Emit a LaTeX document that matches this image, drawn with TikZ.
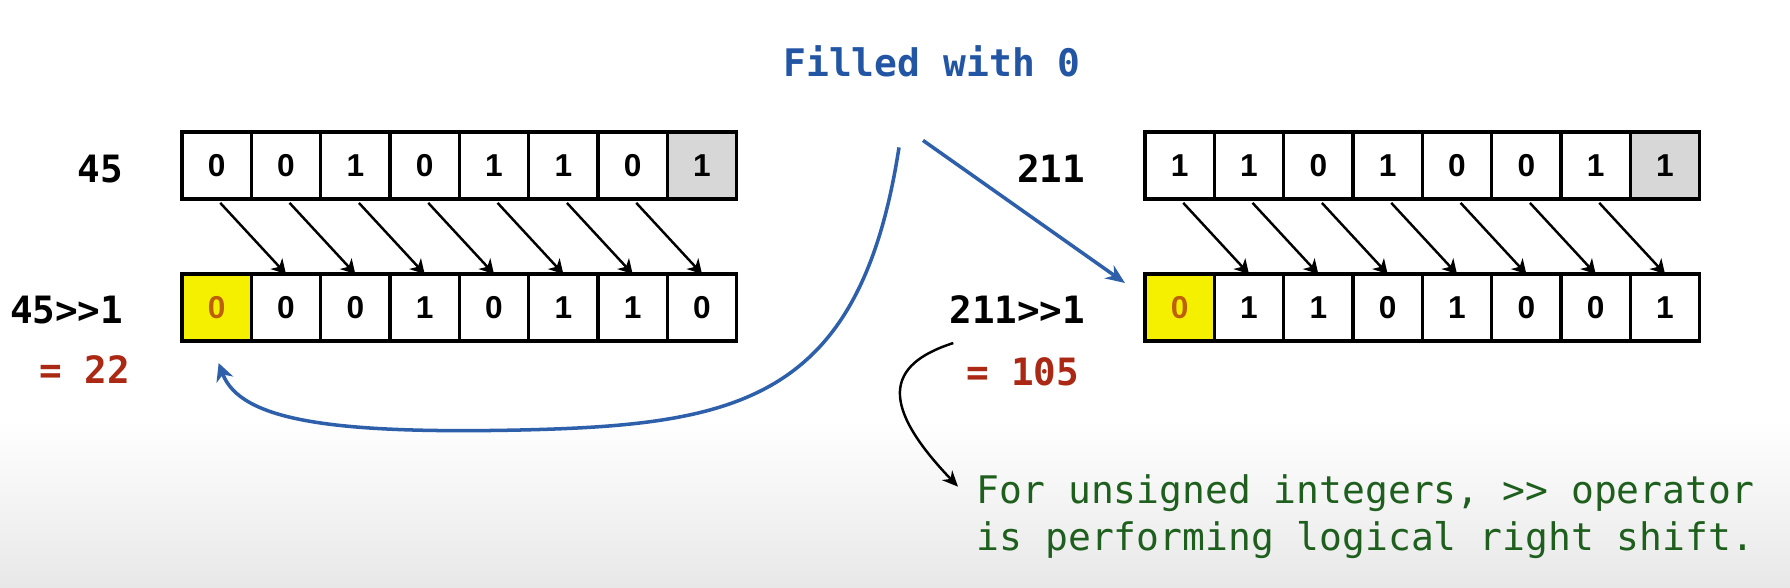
\documentclass[tikz,border=0pt]{standalone}
\usepackage{fontspec}
\usepackage{xcolor}
\usepackage{tikz}
\usetikzlibrary{positioning, arrows.meta, calc}
\setsansfont{Liberation Sans}
\newfontfamily\codefont{DejaVu Sans Mono}

\definecolor{fillblue}{RGB}{35,85,165}
\definecolor{arrowblue}{RGB}{45,95,170}
\definecolor{resred}{RGB}{170,40,20}
\definecolor{notegreen}{RGB}{30,95,30}
\definecolor{cellyellow}{RGB}{245,240,0}
\definecolor{cellgray}{RGB}{215,215,215}
\definecolor{zeroorange}{RGB}{190,95,10}

\tikzset{
  cell/.style={draw, line width=1pt, minimum width=0.693cm, minimum height=0.67cm, inner sep=0pt, outer sep=0pt, font=\sffamily\bfseries\fontsize{9}{10.8}\selectfont},
  lastbit/.style={cell, fill=cellgray},
  newbit/.style={cell, fill=cellyellow, text=zeroorange},
  shiftarrow/.style={-{Stealth[length=4pt, width=4.5pt, inset=1.2pt]}, line width=0.7pt, shorten <=1.5pt},
  numtext/.style={font=\codefont\bfseries\fontsize{10.7}{13}\selectfont, inner sep=0pt, anchor=east},
  restext/.style={numtext, text=resred},
  notetext/.style={font=\codefont\fontsize{10.8}{13.4}\selectfont, inner sep=0pt, anchor=base west, text=notegreen},
  bluearrow/.style={arrowblue, line width=1pt},
}

\begin{document}
\begin{tikzpicture}[x=0.01cm, y=-0.01cm]

\useasboundingbox (0,0) rectangle (1790,587);
\fill [white] (0,0) rectangle (1790,587);
\shade [top color=white, bottom color=black!9] (0,420) rectangle (1790,587);

% 45 and 45>>1
\node[cell] (a0) at (216.65,165.5) {0};
\node[cell, right=0pt of a0] (a1) {0};
\node[cell, right=0pt of a1] (a2) {1};
\node[cell, right=0pt of a2] (a3) {0};
\node[cell, right=0pt of a3] (a4) {1};
\node[cell, right=0pt of a4] (a5) {1};
\node[cell, right=0pt of a5] (a6) {0};
\node[lastbit, right=0pt of a6] (a7) {1};

\node[newbit] (b0) at (216.65,307.5) {0};
\node[cell, right=0pt of b0] (b1) {0};
\node[cell, right=0pt of b1] (b2) {0};
\node[cell, right=0pt of b2] (b3) {1};
\node[cell, right=0pt of b3] (b4) {0};
\node[cell, right=0pt of b4] (b5) {1};
\node[cell, right=0pt of b5] (b6) {1};
\node[cell, right=0pt of b6] (b7) {0};

\draw [shiftarrow] (a0.south) -- (b1.north);
\draw [shiftarrow] (a1.south) -- (b2.north);
\draw [shiftarrow] (a2.south) -- (b3.north);
\draw [shiftarrow] (a3.south) -- (b4.north);
\draw [shiftarrow] (a4.south) -- (b5.north);
\draw [shiftarrow] (a5.south) -- (b6.north);
\draw [shiftarrow] (a6.south) -- (b7.north);

\node[numtext] (n45) at (124,169) {45};
\node[numtext] (n45s) at (124,310) {45>\kern0pt>1};
\node[restext] (r22) at (131,370) {= 22};

% 211 and 211>>1
\node[cell] (c0) at (1179.65,165.5) {1};
\node[cell, right=0pt of c0] (c1) {1};
\node[cell, right=0pt of c1] (c2) {0};
\node[cell, right=0pt of c2] (c3) {1};
\node[cell, right=0pt of c3] (c4) {0};
\node[cell, right=0pt of c4] (c5) {0};
\node[cell, right=0pt of c5] (c6) {1};
\node[lastbit, right=0pt of c6] (c7) {1};

\node[newbit] (d0) at (1179.65,307.5) {0};
\node[cell, right=0pt of d0] (d1) {1};
\node[cell, right=0pt of d1] (d2) {1};
\node[cell, right=0pt of d2] (d3) {0};
\node[cell, right=0pt of d3] (d4) {1};
\node[cell, right=0pt of d4] (d5) {0};
\node[cell, right=0pt of d5] (d6) {0};
\node[cell, right=0pt of d6] (d7) {1};

\draw [shiftarrow] (c0.south) -- (d1.north);
\draw [shiftarrow] (c1.south) -- (d2.north);
\draw [shiftarrow] (c2.south) -- (d3.north);
\draw [shiftarrow] (c3.south) -- (d4.north);
\draw [shiftarrow] (c4.south) -- (d5.north);
\draw [shiftarrow] (c5.south) -- (d6.north);
\draw [shiftarrow] (c6.south) -- (d7.north);

\node[numtext] (n211) at (1086,169) {211};
\node[numtext] (n211s) at (1086,310) {211>\kern0pt>1};
\node[restext] (r105) at (1080,372) {= 105};

% filled with 0
\node[font=\codefont\bfseries\fontsize{10.8}{13}\selectfont, text=fillblue, inner sep=0pt] (fill) at (932,61) {Filled with 0};
\coordinate (fl) at ($(fill.south)+(-33,70)$);
\coordinate (fr) at ($(fill.south)+(-9,63)$);

\draw [bluearrow, -{Stealth[length=5.5pt, width=4.5pt]}] (fr) -- ($(d0.north west)+(-20,9)$);
\draw [bluearrow, -{Stealth[length=5pt, width=5pt, inset=1.5pt]}] (fl) .. controls (860,400) and (740,425) .. (520,430) .. controls (330,434) and (240,420) .. ($(b0.south)+(2,22)$);

% note
\node[notetext] (note1) at (976,503) {For unsigned integers, >\kern0pt> operator};
\node[notetext] (note2) at (976,550) {is performing logical right shift.};

\draw [line width=0.7pt, -{Stealth[length=4.5pt, width=4pt]}] ($(r105.west)+(-12,-29)$) .. controls (885,365) and (880,405) .. ($(note1.west)+(-18,-6)$);

\end{tikzpicture}
\end{document}
